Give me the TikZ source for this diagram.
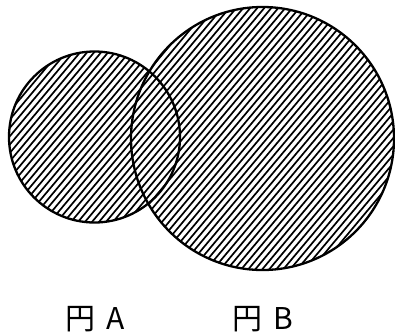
\documentclass[tikz,border=0pt]{standalone}
\usepackage{fontspec}
\usepackage{tikz}
\usetikzlibrary{positioning}
\newfontfamily\jpfont{Noto Sans CJK JP}
\tikzset{
  setcircle/.style={circle,draw=black,line width=2.3pt,inner sep=0pt},
  hatchline/.style={line width=1.7pt},
  setlabel/.style={font=\jpfont\fontsize{30}{32}\selectfont,inner sep=0pt,anchor=base}
}

\begin{document}
\begin{tikzpicture}[x=1pt,y=-1pt]
  \useasboundingbox (0,0) rectangle (395,335);
  \coordinate (oA) at (94.5,137);
  \coordinate (oB) at (262.5,138.5);
  % one hatch over both discs
  \begin{scope}
    \clip (oA) circle[radius=85.5pt] (oB) circle[radius=131.5pt];
    \foreach \i in {-45,...,60}
      \draw[hatchline] (\i*7,340) -- ++(285,-340);
  \end{scope}
  \node[setcircle,minimum size=171pt] (cA) at (oA) {};
  \node[setcircle,minimum size=263pt] (cB) at (oB) {};

  \node[setlabel] (lA) at (95,329) {円\hspace{0.35em}A};
  \node[setlabel] (lB) at (263,329) {円\hspace{0.35em}B};
\end{tikzpicture}
\end{document}
